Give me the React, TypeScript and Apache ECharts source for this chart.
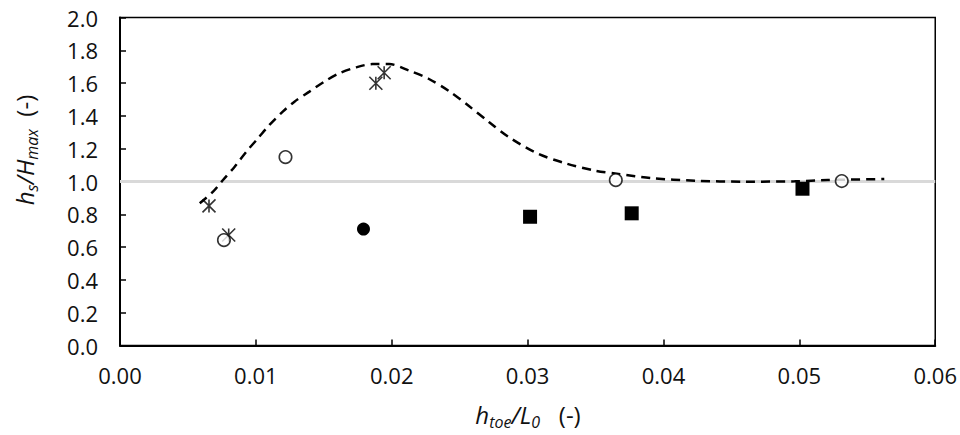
import React, { useEffect, useRef } from "react";
import * as echarts from "echarts";

// Fitted (dashed) curve
const curveX = [
  0.00587, 0.00685, 0.00758, 0.00844, 0.0093, 0.01015, 0.011, 0.01198, 0.01284,
  0.01394, 0.01504, 0.01614, 0.01737, 0.01858, 0.01981, 0.02128, 0.02274,
  0.02421, 0.02568, 0.02715, 0.02861, 0.03069, 0.03277, 0.03497, 0.03668,
  0.03913, 0.04231, 0.04598, 0.04965, 0.05209, 0.05625,
];
const curveY = [
  0.867, 0.938, 1.009, 1.09, 1.182, 1.263, 1.345, 1.426, 1.487, 1.548, 1.609,
  1.66, 1.696, 1.716, 1.716, 1.676, 1.625, 1.552, 1.46, 1.363, 1.271, 1.172,
  1.111, 1.066, 1.046, 1.02, 1.005, 0.999, 1.001, 1.009, 1.015,
];

// Star (asterisk) markers
const crossX = [0.00655, 0.008, 0.01883, 0.01944];
const crossY = [0.851, 0.674, 1.599, 1.663];

// Open circles
const openCircleX = [0.00765, 0.01218, 0.03649, 0.05312];
const openCircleY = [0.643, 1.149, 1.009, 1.003];

// Filled circle
const filledCircleX = [0.01792];
const filledCircleY = [0.71];

// Filled squares
const squareX = [0.03018, 0.03766, 0.05023];
const squareY = [0.785, 0.806, 0.956];

// Reference line
const refLineX = [0, 0.06];
const refLineY = [1.0, 1.0];

// Axes
const xMin = 0;
const xMax = 0.06;
const xInterval = 0.01;
const yMin = 0;
const yMax = 2.0;
const yInterval = 0.2;

const FONT = "'Open Sans', 'DejaVu Sans', sans-serif";
const INK = "#111";

const zip = (xs: number[], ys: number[]) => xs.map((x, i) => [x, ys[i]]);

export default function App() {
  const ref = useRef<HTMLDivElement>(null);

  useEffect(() => {
    if (!ref.current) return;
    const chart = echarts.init(ref.current, null, { renderer: "svg" });

    const titleRich = {
      i: { fontFamily: FONT, fontStyle: "italic", fontSize: 24, lineHeight: 32, fill: INK, color: INK },
      s: { fontFamily: FONT, fontStyle: "italic", fontSize: 16, lineHeight: 18, verticalAlign: "bottom", color: INK, fill: INK },
      n: { fontFamily: FONT, fontSize: 24, lineHeight: 32, color: INK, fill: INK },
    };

    chart.setOption({
      animation: false,
      grid: {
        left: 120,
        right: 21.5,
        top: 17.5,
        bottom: 89.5,
        show: true,
        borderColor: "#000",
        borderWidth: 1.5,
        backgroundColor: "transparent",
      },
      xAxis: {
        type: "value",
        min: xMin,
        max: xMax,
        interval: xInterval,
        axisLine: { show: true, lineStyle: { color: "#000", width: 2 } },
        axisTick: { show: true, inside: true, length: 6, lineStyle: { color: "#000", width: 1.5 } },
        splitLine: { show: false },
        axisLabel: {
          margin: 18,
          fontFamily: FONT,
          fontSize: 22,
          color: INK,
          formatter: (v: number) => v.toFixed(2),
        },
      },
      yAxis: {
        type: "value",
        min: yMin,
        max: yMax,
        interval: yInterval,
        axisLine: { show: true, lineStyle: { color: "#000", width: 2 } },
        axisTick: { show: true, inside: true, length: 6, lineStyle: { color: "#000", width: 1.5 } },
        splitLine: { show: false },
        axisLabel: {
          margin: 22,
          fontFamily: FONT,
          fontSize: 22,
          color: INK,
          formatter: (v: number) => v.toFixed(1),
        },
      },
      graphic: [
        {
          type: "text",
          x: 528,
          y: 414,
          silent: true,
          style: {
            text: "{i|h}{s|toe}{i|/L}{s|0}{n|   (-)}",
            rich: titleRich,
            align: "center",
            verticalAlign: "middle",
          },
        },
        {
          type: "text",
          x: 24,
          y: 150,
          rotation: Math.PI / 2,
          silent: true,
          style: {
            text: "{i|h}{s|s}{i|/H}{s|max}{n|  (-)}",
            rich: titleRich,
            align: "center",
            verticalAlign: "middle",
          },
        },
      ],
      series: [
        {
          name: "reference",
          type: "line",
          data: zip(refLineX, refLineY),
          showSymbol: false,
          symbol: "none",
          lineStyle: { color: "#d9d9d9", width: 3.2 },
          z: 1,
        },
        {
          name: "fit",
          type: "line",
          data: zip(curveX, curveY),
          showSymbol: false,
          symbol: "none",
          smooth: 0.3,
          lineStyle: { color: "#000", width: 2.5, type: [9, 6] },
          z: 2,
        },
        {
          name: "star",
          type: "scatter",
          data: zip(crossX, crossY),
          symbol: "path://M0,0L10,10M10,0L0,10M5,0L5,10",
          symbolSize: 13,
          itemStyle: { color: "rgba(0,0,0,0)", borderColor: "#000", borderWidth: 1.6 },
          z: 3,
        },
        {
          name: "open",
          type: "scatter",
          data: zip(openCircleX, openCircleY),
          symbol: "circle",
          symbolSize: 12.5,
          itemStyle: { color: "#fff", borderColor: "#000", borderWidth: 1.6 },
          z: 3,
        },
        {
          name: "filled",
          type: "scatter",
          data: zip(filledCircleX, filledCircleY),
          symbol: "circle",
          symbolSize: 13,
          itemStyle: { color: "#000", opacity: 1 },
          z: 3,
        },
        {
          name: "square",
          type: "scatter",
          data: zip(squareX, squareY),
          symbol: "rect",
          symbolSize: 14,
          itemStyle: { color: "#000", opacity: 1 },
          z: 3,
        },
      ],
    });

    return () => chart.dispose();
  }, []);

  return (
    <div
      ref={ref}
      style={{ position: "fixed", left: 0, top: 0, width: 960, height: 435, background: "#fff" }}
    />
  );
}
